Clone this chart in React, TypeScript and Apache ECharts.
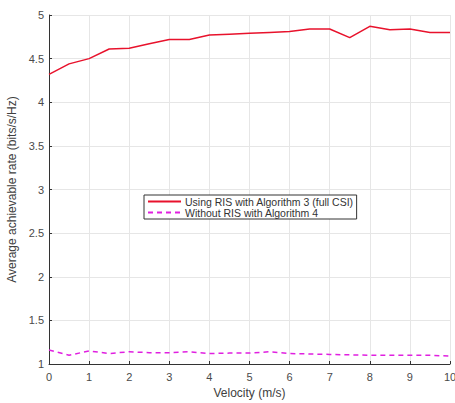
import React, { useEffect, useRef } from "react";
import * as echarts from "echarts";

const velocity = [0, 0.5, 1, 1.5, 2, 2.5, 3, 3.5, 4, 4.5, 5, 5.5, 6, 6.5, 7, 7.5, 8, 8.5, 9, 9.5, 10];
const withRIS = [4.32, 4.44, 4.5, 4.61, 4.62, 4.67, 4.72, 4.72, 4.77, 4.78, 4.79, 4.8, 4.81, 4.84, 4.84, 4.74, 4.87, 4.83, 4.84, 4.8, 4.8];
const withoutRIS = [1.16, 1.1, 1.15, 1.12, 1.14, 1.13, 1.13, 1.14, 1.12, 1.125, 1.125, 1.14, 1.12, 1.115, 1.11, 1.105, 1.1, 1.1, 1.1, 1.1, 1.09];
const seriesNames = ["Using RIS with Algorithm 3 (full CSI)", "Without RIS with Algorithm 4"];

const font = "Arial, 'Liberation Sans', sans-serif";

export default function App() {
  const ref = useRef<HTMLDivElement>(null);
  useEffect(() => {
    if (!ref.current) return;
    const chart = echarts.init(ref.current, undefined, { renderer: "svg" });
    const pairs = (ys: number[]) => velocity.map((x, i) => [x, ys[i]]);
    chart.setOption({
      animation: false,
      backgroundColor: "#ffffff",
      grid: { left: 49, right: 5, top: 15, bottom: 39, outerBoundsMode: "none", containLabel: false },
      legend: {
        orient: "vertical",
        left: 144,
        top: 195,
        itemWidth: 33,
        itemHeight: 10,
        itemGap: 0,
        padding: [1, 3, 1, 3],
        borderColor: "#333333",
        borderWidth: 1,
        borderRadius: 0,
        backgroundColor: "#ffffff",
        itemStyle: { opacity: 0 },
        textStyle: { fontFamily: font, fontSize: 10.5, color: "#333333", padding: [0, 0, 0, -1] },
        data: seriesNames,
      },
      xAxis: {
        type: "value",
        min: 0,
        max: 10,
        interval: 1,
        name: "Velocity (m/s)",
        nameLocation: "middle",
        nameGap: 19,
        nameTextStyle: { fontFamily: font, fontSize: 12, color: "#404040" },
        axisLine: { lineStyle: { color: "#333333", width: 1 } },
        axisTick: { inside: true, length: 3, lineStyle: { color: "#333333" } },
        axisLabel: { fontFamily: font, fontSize: 11, color: "#4a4a4a", margin: 7 },
        splitLine: { show: true, lineStyle: { color: "#e6e6e6", width: 1 } },
      },
      yAxis: {
        type: "value",
        min: 1,
        max: 5,
        interval: 0.5,
        name: "Average achievable rate (bits/s/Hz)",
        nameLocation: "middle",
        nameGap: 24,
        nameTextStyle: { fontFamily: font, fontSize: 12, color: "#404040" },
        axisLine: { show: true, lineStyle: { color: "#333333", width: 1 } },
        axisTick: { show: true, inside: true, length: 3, lineStyle: { color: "#333333" } },
        axisLabel: { fontFamily: font, fontSize: 11, color: "#4a4a4a", margin: 5 },
        splitLine: { show: true, lineStyle: { color: "#e6e6e6", width: 1 } },
      },
      series: [
        {
          name: seriesNames[0],
          type: "line",
          data: pairs(withRIS),
          showSymbol: false,
          symbol: "none",
          color: "#e8122c",
          lineStyle: { color: "#e8122c", width: 1.5 },
        },
        {
          name: seriesNames[1],
          type: "line",
          data: pairs(withoutRIS),
          showSymbol: false,
          symbol: "none",
          color: "#e020e0",
          lineStyle: { color: "#e020e0", width: 1.5, type: [5, 4] },
        },
      ],
    });
    return () => chart.dispose();
  }, []);
  return <div ref={ref} style={{ width: 455, height: 403, position: "absolute", left: 0, top: 0 }} />;
}
